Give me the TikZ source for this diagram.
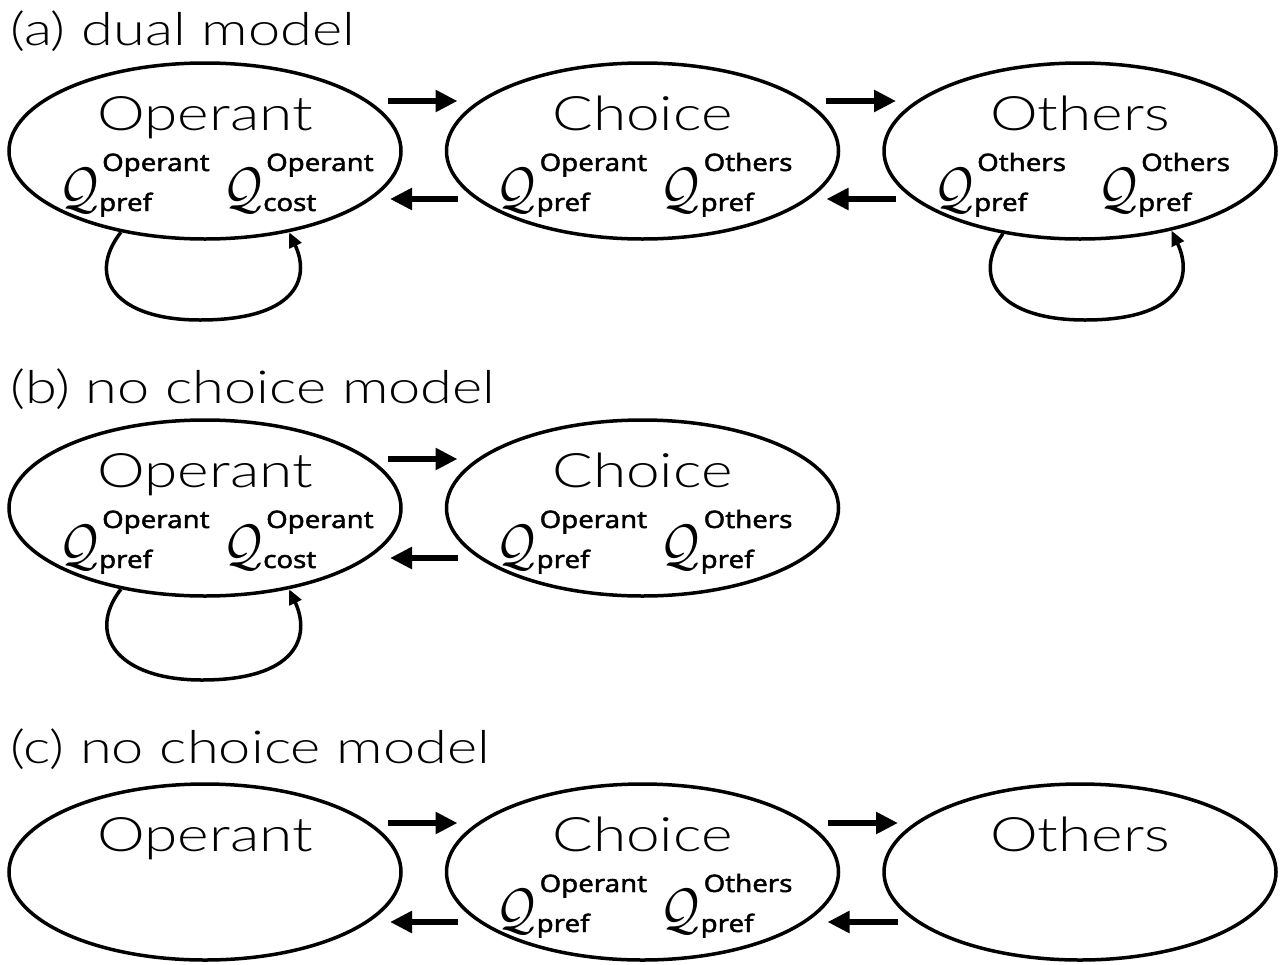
\documentclass[tikz,border=0pt]{standalone}
\usepackage{graphicx}
\usepackage{fontspec}
\IfFontExistsTF{Lato Light}
  {\setmainfont{Lato Light}[FakeStretch=1.27]}
  {\setmainfont{Noto Sans}[FakeStretch=1.15]}
\newfontfamily\idxfont{Noto Sans}[FakeStretch=1.15,FakeBold=1.8]
\usetikzlibrary{shapes.geometric,arrows.meta,calc}
\tikzset{
  x=1pt,y=1pt,
  state/.style={ellipse,draw,line width=3.5pt,minimum width=392pt,minimum height=176pt,inner sep=0pt},
  title/.style={anchor=base west,inner sep=0pt,font=\fontsize{45.5}{45.5}\selectfont},
  lbl/.style={anchor=base,inner sep=0pt,font=\fontsize{47.5}{47.5}\selectfont},
  qsym/.style={anchor=base west,inner sep=0pt,font=\normalsize},
  qidx/.style={anchor=base west,inner sep=0pt,font=\idxfont\fontsize{24}{24}\selectfont},
  arr/.style={line width=5.5pt,-{Triangle[length=22pt,width=21pt]}},
  selfloop/.style={line width=3.5pt,-{Triangle[length=15pt,width=13pt]}},
}
\newcommand\qterm[5]{%
  \node[qsym] (#1) at ($(#2.center)+(#3,-56)$) {\scalebox{4.8}[5.7]{$\mathcal{Q}$}};
  \node[qidx] (#1sup) at ($(#2.center)+(#3+43,-20)$) {#4};
  \node[qidx] (#1sub) at ($(#2.center)+(#3+40,-60)$) {#5};}
\begin{document}
\begin{tikzpicture}
\useasboundingbox (0,0) rectangle (1287,-964);
% ---------- (a)
\node[title] (ta) at (10,-45) {(a) dual model};
\node[state] (opA) at (205,-151) {};
\node[state] (chA) at (642.5,-151) {};
\node[state] (otA) at (1080,-151) {};
\node[lbl] (opAl) at ($(opA.center)+(0,21)$) {Operant};
\node[lbl] (chAl) at ($(chA.center)+(0,21)$) {Choice};
\node[lbl] (otAl) at ($(otA.center)+(0,21)$) {Others};
\qterm{qa1}{opA}{-146}{Operant}{pref}
\qterm{qa2}{opA}{18}{Operant}{cost}
\qterm{qa3}{chA}{-146}{Operant}{pref}
\qterm{qa4}{chA}{18}{Others}{pref}
\qterm{qa5}{otA}{-146}{Others}{pref}
\qterm{qa6}{otA}{18}{Others}{pref}
\draw[arr] ($(opA.center)+(183,50)$) -- ($(chA.center)+(-185,50)$);
\draw[arr] ($(chA.center)+(-185,-48)$) -- ($(opA.center)+(185,-48)$);
\draw[arr] ($(chA.center)+(183,50)$) -- ($(otA.center)+(-184,50)$);
\draw[arr] ($(otA.center)+(-184,-48)$) -- ($(chA.center)+(184,-48)$);
\coordinate (lpA) at ($(opA.center)+(-5,-169)$);
\draw[selfloop] (opA.224) .. controls +(-35,-45) and +(-85,0) .. (lpA) .. controls +(95,0) and +(22,-47) .. (opA.316);
\coordinate (lpO) at ($(otA.center)+(5,-169)$);
\draw[selfloop] (otA.227) .. controls +(-32,-45) and +(-85,0) .. (lpO) .. controls +(95,0) and +(22,-47) .. (otA.319);
% ---------- (b)
\node[title] (tb) at (10,-403) {(b) no choice model};
\node[state] (opB) at (205,-508) {};
\node[state] (chB) at (642.5,-508) {};
\node[lbl] (opBl) at ($(opB.center)+(0,21)$) {Operant};
\node[lbl] (chBl) at ($(chB.center)+(0,21)$) {Choice};
\qterm{qb1}{opB}{-146}{Operant}{pref}
\qterm{qb2}{opB}{18}{Operant}{cost}
\qterm{qb3}{chB}{-146}{Operant}{pref}
\qterm{qb4}{chB}{18}{Others}{pref}
\draw[arr] ($(opB.center)+(183,49)$) -- ($(chB.center)+(-185,49)$);
\draw[arr] ($(chB.center)+(-185,-50)$) -- ($(opB.center)+(185,-50)$);
\coordinate (lpB) at ($(opB.center)+(-3,-172)$);
\draw[selfloop] (opB.224) .. controls +(-35,-45) and +(-85,0) .. (lpB) .. controls +(95,0) and +(22,-47) .. (opB.316);
% ---------- (c)
\node[title] (tc) at (10,-763) {(c) no choice model};
\node[state] (opC) at (205,-872) {};
\node[state] (chC) at (642.5,-872) {};
\node[state] (otC) at (1080,-872) {};
\node[lbl] (opCl) at ($(opC.center)+(0,21)$) {Operant};
\node[lbl] (chCl) at ($(chC.center)+(0,21)$) {Choice};
\node[lbl] (otCl) at ($(otC.center)+(0,21)$) {Others};
\qterm{qc1}{chC}{-146}{Operant}{pref}
\qterm{qc2}{chC}{18}{Others}{pref}
\draw[arr] ($(opC.center)+(183,49)$) -- ($(chC.center)+(-185,49)$);
\draw[arr] ($(chC.center)+(-185,-50)$) -- ($(opC.center)+(185,-50)$);
\draw[arr] ($(chC.center)+(185,49)$) -- ($(otC.center)+(-182,49)$);
\draw[arr] ($(otC.center)+(-182,-50)$) -- ($(chC.center)+(185,-50)$);
\end{tikzpicture}
\end{document}
